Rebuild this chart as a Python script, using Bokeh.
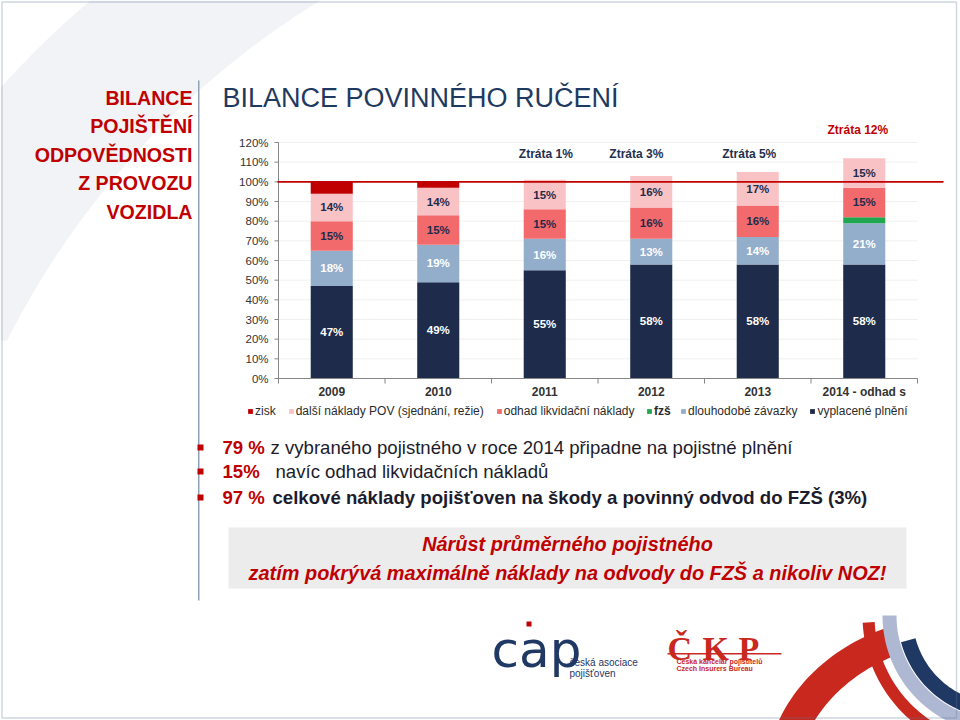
import numpy as np
from bokeh.plotting import figure
from bokeh.models import (ColumnDataSource, Range1d, Label, BoxAnnotation,
                          PolyAnnotation, Legend, LegendItem)
from bokeh.embed import file_html
from bokeh.resources import INLINE
from bokeh.core.properties import value

# ---------------- data ----------------
categories = ["2009", "2010", "2011", "2012", "2013", "2014 - odhad s"]
vyplacene = [47, 49, 55, 58, 58, 58]
dlouhodobe = [18, 19, 16, 13, 14, 21]
fzs = [0, 0, 0, 0, 0, 3]
odhad = [15, 15, 15, 16, 16, 15]
dalsi = [14, 14, 15, 16, 17, 15]
zisk = [6, 3, 0, 0, 0, 0]
series_keys = ["vyplacene", "dlouhodobe", "fzs", "odhad", "dalsi", "zisk"]
series_names = ["vyplacené plnění", "dlouhodobé závazky", "fzš",
                "odhad likvidační náklady", "další náklady POV (sjednání, režie)", "zisk"]
series_colors = ["#1E2B4B", "#93AECB", "#1FA64E", "#F26A6B", "#F9C3C6", "#C00000"]
label_colors = ["white", "white", None, "#1E2B4B", "#1E2B4B", None]
ztrata_idx = [2, 3, 4, 5]
ztrata_text = ["Ztráta 1%", "Ztráta 3%", "Ztráta 5%", "Ztráta 12%"]
y_ticks = list(range(0, 130, 10))
y_tick_labels = [f"{t}%" for t in y_ticks]

SANS = "Liberation Sans"
NAVY = "#1F3864"
RED = "#C00000"
AXIS = "#868686"

W, H = 960, 720
# where the chart's plotting area sits on the slide (page pixels)
FL, FR, FT, FB = 278, 917, 142, 378
NCAT = len(categories)
YMAX = 120.0

# extra ranges: chart coordinates stretched over the whole slide
ux = NCAT / (FR - FL)
uy = YMAX / (FB - FT)
cx = Range1d(0 - FL * ux, NCAT + (W - FR) * ux)
cy = Range1d(0 - (H - FB) * uy, YMAX + FT * uy)

p = figure(width=W, height=H, output_backend="svg", toolbar_location=None,
           x_range=Range1d(0, W), y_range=Range1d(H, 0),
           x_axis_location=None, y_axis_location=None, min_border=0,
           extra_x_ranges={"cx": cx}, extra_y_ranges={"cy": cy})
p.outline_line_color = None
p.background_fill_color = "white"
p.border_fill_color = "white"
p.xgrid.visible = False
p.ygrid.visible = False


def box(**kw):
    kw.setdefault("line_color", None)
    kw.setdefault("fill_alpha", 1.0)
    p.add_layout(BoxAnnotation(**kw))


def poly(xs_, ys_, col):
    p.add_layout(PolyAnnotation(xs=list(xs_), ys=list(ys_), fill_color=col, fill_alpha=1.0,
                                line_color=None, level="underlay"))


# ---------------- slide decoration ----------------
def crescent():
    c1, r1 = (700.0, 720.0), np.hypot(610, 720)
    c2, r2 = (760.0, 720.0), np.hypot(440, 720)
    left, right, yy = [], [], []
    for y in np.linspace(0, 340, 60):
        xo = c1[0] - np.sqrt(max(r1**2 - (c1[1] - y)**2, 0))
        xi = c2[0] - np.sqrt(max(r2**2 - (c2[1] - y)**2, 0))
        lo = max(0.0, xo)
        if xi > lo:
            left.append(lo); right.append(xi); yy.append(y)
    return left + right[::-1], yy + yy[::-1]

sx, sy = crescent()
poly(sx, sy, "#F2F3F6")


def ell_arc(cxp, cyp, rx, ry, a0, a1, n=40):
    t = np.linspace(np.radians(a0), np.radians(a1), n)
    return list(cxp + rx * np.cos(t)), list(cyp - ry * np.sin(t))


def ring(cxp, cyp, r0, r1, a0, a1, n=40):
    t = np.radians(np.linspace(a0, a1, n))
    xo, yo = cxp + r1 * np.cos(t), cyp - r1 * np.sin(t)
    xi, yi = cxp + r0 * np.cos(t[::-1]), cyp - r0 * np.sin(t[::-1])
    return np.concatenate([xo, xi]), np.concatenate([yo, yi])


# bottom right swoosh
ax, ay = ell_arc(960, 780, 195, 165, 180, 112)
bx, by = ell_arc(965, 792, 172, 150, 114, 180)
poly(ax + bx, ay + by, "#C8281E")
poly(*ring(1000, 615, 126, 138, 183, 240), "#C8281E")
poly(*ring(1000, 615, 104, 118, 180, 250), "#AEB8D2")
poly(*ring(1000, 615, 88, 103, 195, 250), "#1F3864")

# slide border and separator
p.add_layout(BoxAnnotation(left=1.5, right=956, top=1.5, bottom=717.5, fill_alpha=0,
                           line_color="#5D7A99", line_width=1.5))
box(left=197.5, right=199, top=80, bottom=600, fill_color="#8FA2B8")

# titles
for i, t in enumerate(["BILANCE", "POJIŠTĚNÍ", "ODPOVĚDNOSTI", "Z PROVOZU", "VOZIDLA"]):
    p.add_layout(Label(x=192, y=97 + 28.5 * i, text=t,
                       text_font=SANS, text_font_style="bold", text_font_size="19.6px",
                       text_color=RED, text_align="right", text_baseline="middle"))
p.add_layout(Label(x=222, y=97, text="BILANCE POVINNÉHO RUČENÍ", text_font=SANS,
                   text_font_size="27px", text_color="#1F3A60", text_align="left",
                   text_baseline="middle"))

# ---------------- chart ----------------
xs = [i + 0.5 for i in range(NCAT)]
data = dict(x=xs, vyplacene=vyplacene, dlouhodobe=dlouhodobe, fzs=fzs,
            odhad=odhad, dalsi=dalsi, zisk=zisk)
source = ColumnDataSource(data)

# gridlines
p.segment(x0=[0] * len(y_ticks), x1=[NCAT] * len(y_ticks), y0=y_ticks, y1=y_ticks,
          x_range_name="cx", y_range_name="cy", line_color="#F0F0F0", line_width=1)

renderers = p.vbar_stack(series_keys, x="x", width=0.395, color=series_colors,
                         line_color=None, source=source, x_range_name="cx", y_range_name="cy")

# axes (drawn with the chart scales)
p.segment(x0=[0], x1=[0], y0=[0], y1=[YMAX], x_range_name="cx", y_range_name="cy",
          line_color=AXIS, line_width=1)
p.segment(x0=[0], x1=[NCAT], y0=[0], y1=[0], x_range_name="cx", y_range_name="cy",
          line_color=AXIS, line_width=1)
p.segment(x0=[FL - 4] * len(y_ticks), x1=[FL] * len(y_ticks), y0=y_ticks, y1=y_ticks,
          y_range_name="cy", line_color=AXIS, line_width=1)
bounds = list(range(NCAT + 1))
p.segment(x0=bounds, x1=bounds, y0=[FB] * len(bounds), y1=[FB + 5] * len(bounds),
          x_range_name="cx", line_color=AXIS, line_width=1)
p.text(x=[FL - 10] * len(y_ticks), y=y_ticks, text=y_tick_labels, y_range_name="cy",
       text_align="right", text_baseline="middle", text_font=value(SANS),
       text_font_size="11.5px", text_color="#333333")
p.text(x=xs, y=[FB + 13] * NCAT, text=categories, x_range_name="cx",
       text_align="center", text_baseline="middle", text_font=value(SANS),
       text_font_style="bold", text_font_size="12px", text_color="#333333")

# segment labels
lx, ly, lt, lc = [], [], [], []
cum = np.zeros(NCAT)
for key, col in zip(series_keys, label_colors):
    vals = np.array(data[key], dtype=float)
    if col is not None:
        for i, v in enumerate(vals):
            if v > 0:
                lx.append(xs[i]); ly.append(cum[i] + v / 2); lt.append(f"{int(v)}%"); lc.append(col)
    cum += vals
p.text(x=lx, y=ly, text=lt, text_color=lc, text_align="center", text_baseline="middle",
       text_font=value(SANS), text_font_style="bold", text_font_size="11.5px",
       x_range_name="cx", y_range_name="cy")

# 100 % line
box(left=FL - 1, right=943, bottom=99.55, top=100.45, y_range_name="cy", fill_color=RED)

# loss labels
z_off = [0.01, -0.14, -0.08, -0.06]
z_y = [114.4, 114.4, 114.4, 126.6]
for k, (i, t) in enumerate(zip(ztrata_idx, ztrata_text)):
    p.add_layout(Label(x=xs[i] + z_off[k], y=z_y[k], text=t, text_font=SANS,
                       x_range_name="cx", y_range_name="cy",
                       text_font_style="bold", text_font_size="12px",
                       text_color=RED if k == 3 else "#1F3050",
                       text_align="center", text_baseline="middle"))

# legend (three parts so that "fzš" can be bold as in the original)
rev_names = series_names[::-1]
rev_rends = renderers[::-1]
for idx, lx0, style in [([0, 1, 2], 247, "normal"), ([3], 646, "bold"), ([4, 5], 680, "normal")]:
    items = [LegendItem(label=rev_names[j], renderers=[rev_rends[j]]) for j in idx]
    p.add_layout(Legend(items=items, orientation="horizontal", location=(lx0, H - 418),
                        glyph_width=6, glyph_height=6, label_standoff=2, spacing=12,
                        padding=0, margin=0, label_height=14,
                        label_text_font=SANS, label_text_font_size="12px",
                        label_text_font_style=style,
                        label_text_color="#2B2B2B", border_line_color=None,
                        background_fill_alpha=0), "center")

# ---------------- bullets ----------------
bullet_y = [447, 471, 497]
bullet_red = ["79 %", "15%", "97 %"]
bullet_rest = ["z vybraného pojistného v roce 2014 připadne na pojistné plnění",
               "navíc odhad likvidačních nákladů",
               "celkové náklady pojišťoven na škody a povinný odvod do FZŠ (3%)"]
bullet_rest_x = [270, 275, 272]
bullet_rest_bold = [False, False, True]
for y, r, t, tx, b in zip(bullet_y, bullet_red, bullet_rest, bullet_rest_x, bullet_rest_bold):
    box(left=197, right=203, top=y - 3, bottom=y + 3, fill_color=RED)
    p.add_layout(Label(x=222, y=y, text=r, text_font=SANS, text_font_style="bold",
                       text_font_size="18.6px", text_color=RED, text_baseline="middle"))
    p.add_layout(Label(x=tx, y=y, text=t, text_font=SANS,
                       text_font_style="bold" if b else "normal",
                       text_font_size="18.6px", text_color="#1C1C2C", text_baseline="middle"))

# grey box
box(left=228, right=906, top=527, bottom=588, fill_color="#ECECEC")
for y, t in zip([543, 572], ["Nárůst průměrného pojistného",
                             "zatím pokrývá maximálně náklady na odvody do FZŠ a nikoliv NOZ!"]):
    p.add_layout(Label(x=567, y=y, text=t, text_font=SANS,
                       text_font_style="bold italic", text_font_size="19.9px",
                       text_color=RED, text_align="center", text_baseline="middle"))

# ---------------- logos ----------------
p.add_layout(Label(x=491, y=649, text="cap", text_font="DejaVu Sans", text_font_size="50px",
                   text_color=NAVY, text_baseline="alphabetic"))
box(left=526, right=531, top=621, bottom=626, fill_color=RED)
for y, t in zip([662, 673], ["česká asociace", "pojišťoven"]):
    p.add_layout(Label(x=569, y=y, text=t, text_font=SANS, text_font_size="10px",
                       text_color=NAVY, text_baseline="middle"))
for x, t in zip([667, 702, 738], ["Č", "K", "P"]):
    p.add_layout(Label(x=x, y=648, text=t, text_font="Liberation Serif",
                       text_font_style="bold", text_font_size="34px",
                       text_color="#C8281E", text_baseline="alphabetic"))
box(left=667, right=781, top=652.5, bottom=654, fill_color="#C8281E")
for y, t in zip([661, 668], ["Česká  kancelář  pojistitelů", "Czech  Insurers  Bureau"]):
    p.add_layout(Label(x=676, y=y, text=t, text_font=SANS, text_font_style="bold",
                       text_font_size="7px", text_color="#C8281E", text_baseline="middle"))

open("out.html", "w").write(file_html(p, INLINE))
